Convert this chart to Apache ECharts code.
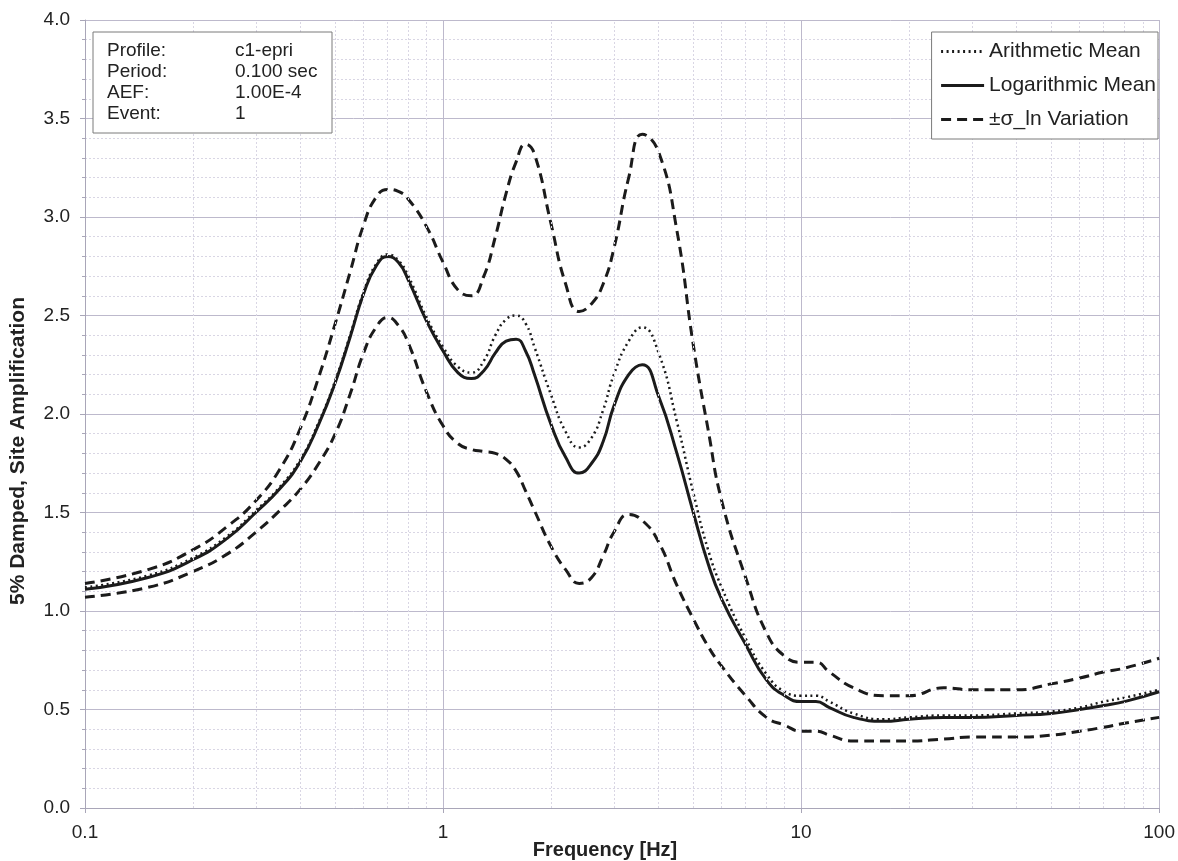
<!DOCTYPE html>
<html>
<head>
<meta charset="utf-8">
<script src="https://cdn.jsdelivr.net/npm/echarts@6/dist/echarts.min.js"></script>
<style>
html,body{margin:0;padding:0;background:#fff;}
#chart{width:1178px;height:861px;}
</style>
</head>
<body>
<div id="chart"></div>
<script>
// ---- data ----
var freq = [0.1,0.15,0.2,0.25,0.3,0.35,0.4,0.45,0.5,0.55,0.6,0.65,0.7,0.75,0.8,0.9,1.0,1.1,1.2,1.3,1.4,1.5,1.6,1.7,1.8,2.0,2.2,2.4,2.6,2.8,3.0,3.3,3.6,4.0,4.5,5,5.5,6,7,8,9,10,11,12,14,17,20,25,30,40,50,60,70,80,100];
var logMean = [1.11,1.17,1.26,1.37,1.50,1.62,1.76,1.95,2.16,2.39,2.61,2.75,2.80,2.77,2.68,2.47,2.32,2.21,2.18,2.22,2.31,2.37,2.38,2.32,2.20,1.95,1.78,1.70,1.75,1.86,2.04,2.20,2.25,2.09,1.80,1.50,1.24,1.06,0.83,0.65,0.57,0.54,0.54,0.51,0.46,0.44,0.45,0.46,0.46,0.47,0.48,0.50,0.52,0.54,0.59];
var arithMean = [1.12,1.18,1.27,1.38,1.51,1.63,1.77,1.96,2.17,2.40,2.62,2.76,2.81,2.78,2.70,2.49,2.34,2.24,2.21,2.27,2.40,2.48,2.50,2.46,2.34,2.10,1.91,1.83,1.88,2.02,2.20,2.37,2.44,2.31,1.96,1.60,1.31,1.12,0.86,0.68,0.59,0.57,0.57,0.54,0.48,0.45,0.46,0.47,0.47,0.48,0.49,0.51,0.54,0.56,0.60];
var upperSigma = [1.14,1.21,1.31,1.43,1.56,1.72,1.93,2.19,2.46,2.72,2.96,3.10,3.14,3.13,3.09,2.95,2.77,2.63,2.60,2.70,2.90,3.12,3.28,3.37,3.32,2.97,2.66,2.52,2.56,2.66,2.84,3.20,3.42,3.33,2.93,2.35,1.92,1.56,1.17,0.89,0.77,0.74,0.74,0.69,0.61,0.57,0.57,0.61,0.60,0.60,0.63,0.66,0.69,0.71,0.76];
var lowerSigma = [1.07,1.12,1.20,1.29,1.40,1.51,1.62,1.75,1.90,2.10,2.31,2.44,2.49,2.45,2.36,2.11,1.94,1.85,1.82,1.81,1.80,1.77,1.71,1.61,1.51,1.33,1.21,1.14,1.17,1.28,1.40,1.49,1.46,1.35,1.13,0.96,0.82,0.72,0.57,0.46,0.42,0.39,0.39,0.37,0.34,0.34,0.34,0.35,0.36,0.36,0.37,0.39,0.41,0.43,0.46];
var xTickLabels = ['0.1','1','10','100'];
var minorFreqs = [0.2,0.3,0.4,0.5,0.6,0.7,0.8,0.9,2,3,4,5,6,7,8,9,20,30,40,50,60,70,80,90];
var seriesNames = ['Arithmetic Mean','Logarithmic Mean','\u00B1\u03C3_ln Variation'];
var infoLabels = ['Profile:','Period:','AEF:','Event:'];
var infoValues = ['c1-epri','0.100 sec','1.00E-4','1'];
var xAxisTitle = 'Frequency [Hz]';
var yAxisTitle = '5% Damped, Site Amplification';

function pairs(arr){ return freq.map(function(f,i){ return [f, arr[i]]; }); }

var FONT = '"Liberation Sans", Arial, sans-serif';
var lineColor = '#1b1b1b';
var gridMajor = '#bdb9cc';
var gridMinor = '#d9d6e4';

var graphics = [{
  type:'rect', shape:{x:93,y:32,width:239,height:101},
  style:{fill:'#fff', stroke:'#7a7a7a', lineWidth:1}, z:100
}];
infoLabels.forEach(function(t,i){
  graphics.push({type:'text', x:107, y:51+i*21, z:101,
    style:{text:t, font:'19px '+FONT, fill:'#222', textVerticalAlign:'middle'}});
  graphics.push({type:'text', x:235, y:51+i*21, z:101,
    style:{text:infoValues[i], font:'19px '+FONT, fill:'#222', textVerticalAlign:'middle'}});
});
graphics.push({type:'text', x:605, y:850, z:101,
  style:{text:xAxisTitle, font:'bold 20px '+FONT, fill:'#222', textAlign:'center', textVerticalAlign:'middle'}});
graphics.push({type:'text', x:18, y:451, rotation:Math.PI/2, z:101,
  style:{text:yAxisTitle, font:'bold 21px '+FONT, fill:'#222', textAlign:'center', textVerticalAlign:'middle'}});

var chart = echarts.init(document.getElementById('chart'), null, {renderer:'canvas'});
chart.setOption({
  backgroundColor:'#fff',
  animation:false,
  grid:{left:85,right:18,top:20,bottom:53,containLabel:false},
  legend:{
    orient:'vertical', right:20, top:32,
    data:seriesNames,
    itemWidth:43, itemHeight:14, itemGap:13,
    padding:[9,2,9,8],
    backgroundColor:'#fff', borderColor:'#7a7a7a', borderWidth:1,
    itemStyle:{opacity:0, borderWidth:0},
    lineStyle:{width:3},
    textStyle:{fontFamily:FONT, fontSize:21, color:'#222'},
    z:100
  },
  xAxis:{
    type:'log', logBase:10, min:0.1, max:100,
    axisLine:{show:true, lineStyle:{color:'#a9a6b8'}},
    axisTick:{show:true, length:5, lineStyle:{color:'#a9a6b8'}},
    axisLabel:{fontFamily:FONT, fontSize:19, color:'#222', margin:15,
      formatter:function(v){ var k=Math.round(Math.log(v)/Math.LN10)+1; return xTickLabels[k]!==undefined?xTickLabels[k]:''; }},
    splitLine:{show:true, lineStyle:{color:gridMajor, width:1}}
  },
  yAxis:{
    type:'value', min:0, max:4, interval:0.5,
    axisLine:{show:true, lineStyle:{color:'#a9a6b8'}},
    axisTick:{show:true, length:5, lineStyle:{color:'#a9a6b8'}},
    minorTick:{show:true, splitNumber:5, length:3, lineStyle:{color:'#a9a6b8'}},
    axisLabel:{fontFamily:FONT, fontSize:19, color:'#222', margin:15,
      formatter:function(v){ return v.toFixed(1); }},
    splitLine:{show:true, lineStyle:{color:gridMajor, width:1}},
    minorSplitLine:{show:true, lineStyle:{color:gridMinor, width:1, type:[2,2]}}
  },
  series:[
    {
      name:'minor-grid', type:'line', data:[], silent:true, z:1,
      markLine:{silent:true, symbol:['none','none'], label:{show:false},
        lineStyle:{color:gridMinor, width:1, type:[2,2]},
        emphasis:{disabled:true},
        animation:false,
        data:minorFreqs.map(function(f){ return {xAxis:f}; })}
    },
    {
      name:seriesNames[0], type:'line', data:pairs(arithMean), smooth:0.5,
      showSymbol:false, symbol:'none', z:3,
      lineStyle:{color:lineColor, width:2.5, type:[2,3.5]}, itemStyle:{color:lineColor}
    },
    {
      name:seriesNames[1], type:'line', data:pairs(logMean), smooth:0.5,
      showSymbol:false, symbol:'none', z:4,
      lineStyle:{color:lineColor, width:3, type:'solid'}, itemStyle:{color:lineColor}
    },
    {
      name:seriesNames[2], type:'line', data:pairs(upperSigma), smooth:0.5,
      showSymbol:false, symbol:'none', z:3,
      lineStyle:{color:lineColor, width:3, type:[10,6]}, itemStyle:{color:lineColor}
    },
    {
      name:seriesNames[2], type:'line', data:pairs(lowerSigma), smooth:0.5,
      showSymbol:false, symbol:'none', z:3,
      lineStyle:{color:lineColor, width:3, type:[10,6]}, itemStyle:{color:lineColor}
    }
  ],
  graphic:graphics
});
</script>
</body>
</html>
